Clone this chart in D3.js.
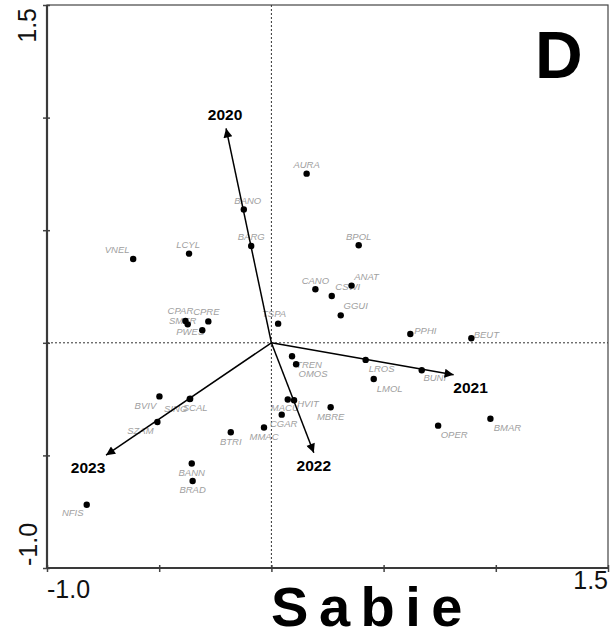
<!DOCTYPE html>
<html>
<head>
<meta charset="utf-8">
<script src="https://cdn.jsdelivr.net/npm/d3@7"></script>
<style>
  body { margin: 0; background: #fff; }
  svg { display: block; font-family: "Liberation Sans", Arial, sans-serif; }
</style>
</head>
<body>
<svg id="chart"></svg>
<script>
// species scores (axis 1, axis 2)
var species = ["AURA", "BANO", "BARG", "BPOL", "LCYL", "VNEL", "CANO", "ANAT", "CSWI", "GGUI",
    "TSPA", "PPHI", "BEUT", "CPAR", "CPRE", "SMER", "PWES", "TREN", "OMOS", "LROS",
    "LMOL", "BUNI", "MACU", "HVIT", "MBRE", "CGAR", "MMAC", "BTRI", "OPER", "BMAR",
    "BVIV", "SING", "SCAL", "SZAM", "BANN", "BRAD", "NFIS"];
var axis1 = [0.157, -0.123, -0.090, 0.389, -0.367, -0.616, 0.196, 0.357, 0.269, 0.309,
    0.030, 0.619, 0.891, -0.383, -0.281, -0.373, -0.308, 0.092, 0.110, 0.420,
    0.456, 0.670, 0.073, 0.101, 0.264, 0.046, -0.033, -0.181, 0.743, 0.976,
    -0.499, -0.364, -0.362, -0.508, -0.355, -0.351, -0.823];
var axis2 = [0.751, 0.592, 0.430, 0.433, 0.396, 0.372, 0.238, 0.254, 0.208, 0.122,
    0.085, 0.039, 0.020, 0.097, 0.095, 0.082, 0.056, -0.060, -0.095, -0.076,
    -0.161, -0.122, -0.252, -0.255, -0.286, -0.319, -0.376, -0.397, -0.368, -0.337,
    -0.238, -0.250, -0.248, -0.352, -0.536, -0.614, -0.719];

// year vectors
var years = ["2020", "2021", "2022", "2023"];
var yearX = [-0.202, 0.812, 0.189, -0.737];
var yearY = [0.952, -0.142, -0.488, -0.499];

var tickValues = [-1.0, -0.5, 0, 0.5, 1.0, 1.5];

// label placement (pixels from the point, label centre)
var labelNudge = {
    AURA: [0, -9], BANO: [4, -9], BARG: [0, -9], BPOL: [0, -9], LCYL: [-1, -9], VNEL: [-16, -9],
    CANO: [0, -9], ANAT: [15, -9], CSWI: [16, -9], GGUI: [15, -10], TSPA: [-4, -10],
    PPHI: [15, -3], BEUT: [15, -4], CPAR: [-5, -10], CPRE: [-2, -10], SMER: [-5, -4],
    PWES: [-12, 1], TREN: [17, 8], OMOS: [17, 9], LROS: [16, 9], LMOL: [16, 10],
    BUNI: [13, 7], MACU: [-3, 8], HVIT: [14, 3], MBRE: [0, 9], CGAR: [2, 9], MMAC: [0, 9],
    BTRI: [0, 9], OPER: [16, 9], BMAR: [17, 9], BVIV: [-14, 9], SING: [-14, 9], SCAL: [5, 9],
    SZAM: [-17, 9], BANN: [0, 9], BRAD: [0, 9], NFIS: [-14, 8]
};
var yearNudge = { "2020": [-1, -8], "2021": [17, 18], "2022": [0, 18], "2023": [-18, 18] };

function draw_biplot() {

    var width = 610, height = 633;
    var plot = {left: 47, right: 608, top: 5, bottom: 568};

    var x = d3.scaleLinear().domain([-1.0, 1.5]).range([plot.left, plot.right]);
    var y = d3.scaleLinear().domain([-1.0, 1.5]).range([plot.bottom, plot.top]);

    var svg = d3.select("#chart")
        .attr("width", width)
        .attr("height", height);

    svg.append("defs").append("marker")
        .attr("id", "head")
        .attr("viewBox", "0 0 10 10")
        .attr("refX", 10)
        .attr("refY", 5)
        .attr("markerWidth", 12)
        .attr("markerHeight", 9)
        .attr("markerUnits", "userSpaceOnUse")
        .attr("orient", "auto")
      .append("path")
        .attr("d", "M0,0 L10,5 L0,10 Z")
        .attr("fill", "#000");

    // frame
    svg.append("rect")
        .attr("x", plot.left).attr("y", plot.top)
        .attr("width", plot.right - plot.left).attr("height", plot.bottom - plot.top)
        .attr("fill", "none")
        .attr("stroke", "#444")
        .attr("stroke-width", 1.2);

    // zero lines
    svg.append("line")
        .attr("x1", x(0)).attr("x2", x(0))
        .attr("y1", plot.top).attr("y2", plot.bottom)
        .attr("stroke", "#333").attr("stroke-width", 1)
        .attr("stroke-dasharray", "2,2");
    svg.append("line")
        .attr("x1", plot.left).attr("x2", plot.right)
        .attr("y1", y(0)).attr("y2", y(0))
        .attr("stroke", "#333").attr("stroke-width", 1)
        .attr("stroke-dasharray", "2,2");

    // axes
    var xAxis = d3.axisBottom(x).tickValues(tickValues).tickSize(7).tickFormat("");
    var yAxis = d3.axisLeft(y).tickValues(tickValues).tickSize(7).tickFormat("");

    var gx = svg.append("g")
        .attr("transform", "translate(0," + (plot.bottom + 3) + ")")
        .call(xAxis);
    gx.select(".domain").remove();
    gx.selectAll("line").attr("y1", -6).attr("y2", 1).attr("stroke", "#444").attr("stroke-width", 1.5);

    var gy = svg.append("g")
        .attr("transform", "translate(" + (plot.left - 3) + ",0)")
        .call(yAxis);
    gy.select(".domain").remove();
    gy.selectAll("line").attr("x1", -1).attr("x2", 6).attr("stroke", "#444").attr("stroke-width", 1.5);

    svg.append("line")
        .attr("x1", plot.left).attr("x2", plot.right)
        .attr("y1", plot.bottom).attr("y2", plot.bottom)
        .attr("stroke", "#3a3a3a").attr("stroke-width", 2.2);
    svg.append("line")
        .attr("x1", plot.left).attr("x2", plot.left)
        .attr("y1", plot.top).attr("y2", plot.bottom)
        .attr("stroke", "#3a3a3a").attr("stroke-width", 2.2);

    // axis end labels
    svg.append("text")
        .attr("x", x(-1.0)).attr("y", 598)
        .attr("font-size", 25).attr("fill", "#111")
        .text("-1.0");
    svg.append("text")
        .attr("x", x(1.5)).attr("y", 589)
        .attr("text-anchor", "end")
        .attr("font-size", 25).attr("fill", "#111")
        .text("1.5");
    svg.append("text")
        .attr("transform", "translate(36," + (y(1.5) + 3) + ") rotate(-90)")
        .attr("text-anchor", "end")
        .attr("font-size", 25).attr("fill", "#111")
        .text("1.5");
    svg.append("text")
        .attr("transform", "translate(37," + (y(-1.0) - 2) + ") rotate(-90)")
        .attr("font-size", 25).attr("fill", "#111")
        .text("-1.0");

    // species points and labels
    var spp = species.map(function(s, i) {
        return { name: s, a1: axis1[i], a2: axis2[i] };
    });

    svg.append("g").selectAll("text")
        .data(spp)
        .enter().append("text")
        .attr("x", function(d) { return x(d.a1) + labelNudge[d.name][0]; })
        .attr("y", function(d) { return y(d.a2) + labelNudge[d.name][1] + 3.4; })
        .attr("text-anchor", "middle")
        .attr("font-size", 9.5)
        .attr("font-style", "italic")
        .attr("fill", "#a0a0a0")
        .text(function(d) { return d.name; });

    svg.append("g").selectAll("circle")
        .data(spp)
        .enter().append("circle")
        .attr("cx", function(d) { return x(d.a1); })
        .attr("cy", function(d) { return y(d.a2); })
        .attr("r", 3.2)
        .attr("fill", "#000");

    // year arrows
    var yrs = years.map(function(s, i) {
        return { name: s, a1: yearX[i], a2: yearY[i] };
    });

    svg.append("g").selectAll("line")
        .data(yrs)
        .enter().append("line")
        .attr("x1", x(0)).attr("y1", y(0))
        .attr("x2", function(d) { return x(d.a1); })
        .attr("y2", function(d) { return y(d.a2); })
        .attr("stroke", "#000")
        .attr("stroke-width", 1.5)
        .attr("marker-end", "url(#head)");

    svg.append("g").selectAll("text")
        .data(yrs)
        .enter().append("text")
        .attr("x", function(d) { return x(d.a1) + yearNudge[d.name][0]; })
        .attr("y", function(d) { return y(d.a2) + yearNudge[d.name][1]; })
        .attr("text-anchor", "middle")
        .attr("font-size", 15.5)
        .attr("font-weight", "bold")
        .attr("fill", "#000")
        .text(function(d) { return d.name; });

    // panel letter and site name
    svg.append("text")
        .attr("x", 535).attr("y", 78)
        .attr("font-size", 66)
        .attr("font-weight", "bold")
        .text("D");

    svg.append("text")
        .attr("x", 372).attr("y", 626)
        .attr("text-anchor", "middle")
        .attr("font-size", 56)
        .attr("font-weight", "bold")
        .attr("letter-spacing", 10.5)
        .text("Sabie");
}

draw_biplot();
</script>
</body>
</html>
